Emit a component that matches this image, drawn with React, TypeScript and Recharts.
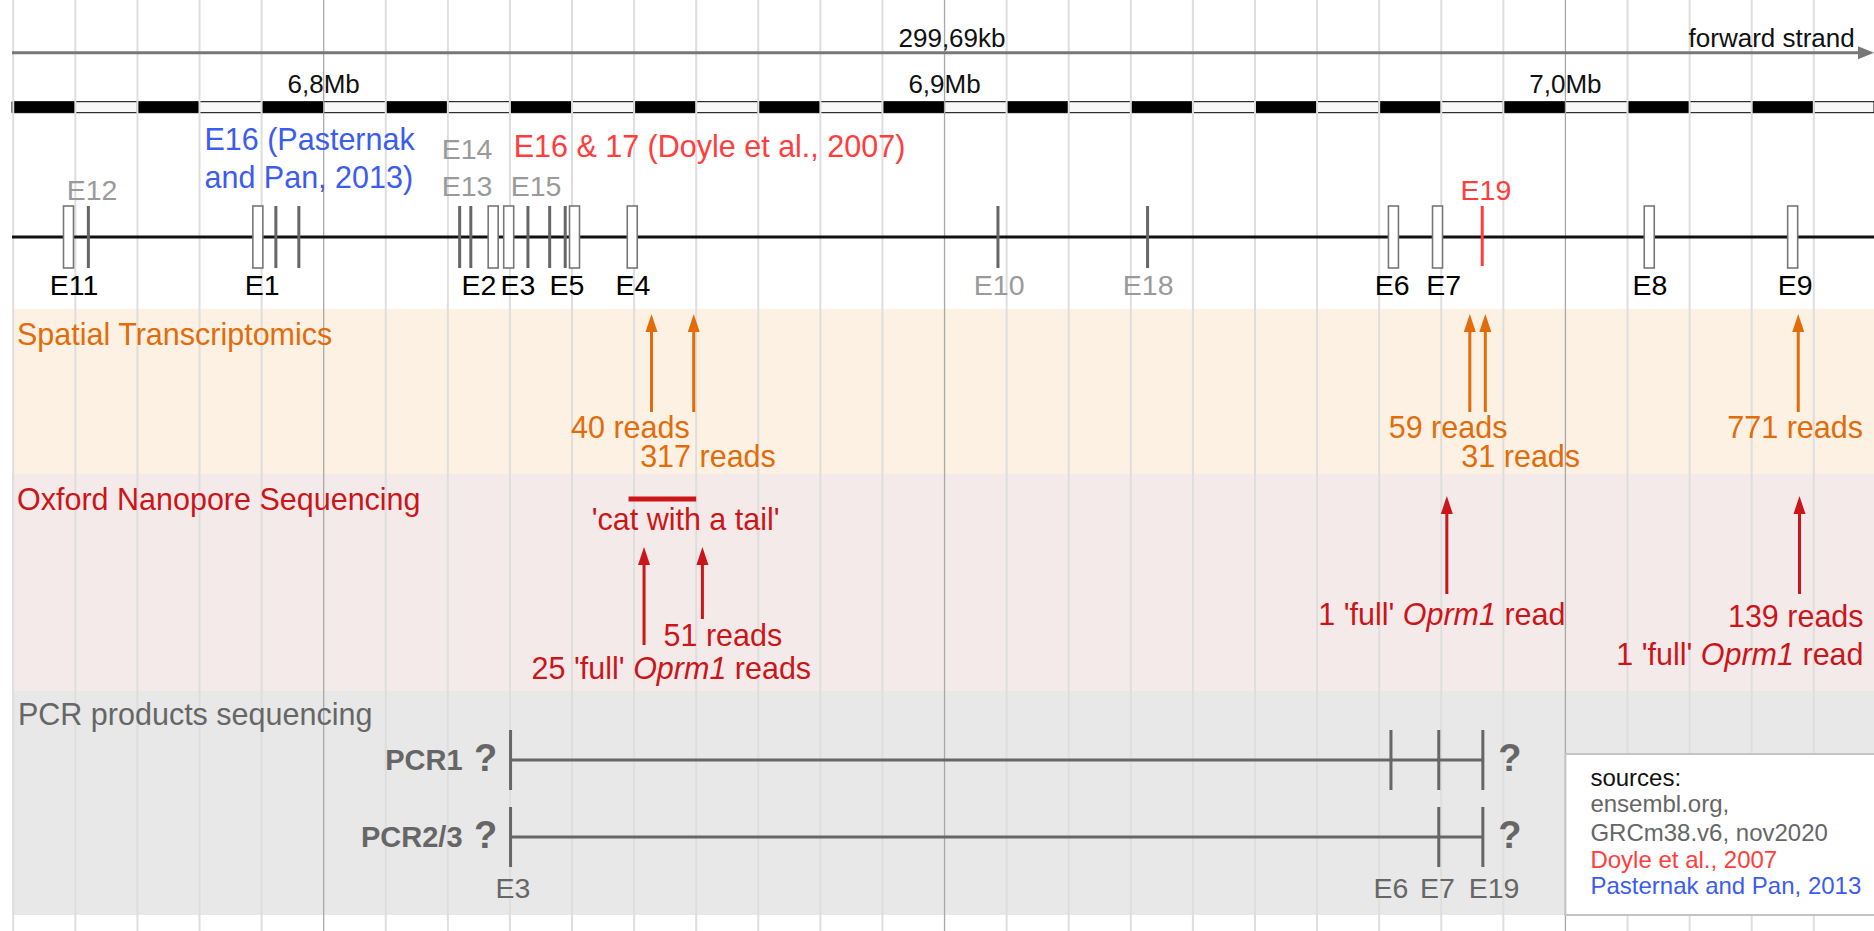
import React from 'react';
import {
  ComposedChart,
  XAxis,
  YAxis,
  Scatter,
  ReferenceArea,
  ReferenceLine,
} from 'recharts';

const W = 1874;
const H = 931;
const FONT = '"Liberation Sans", Arial, sans-serif';

// shown part of chr10 in kb (299,69kb)
const viewKb: [number, number] = [6749.8, 7049.7];

const gridKb = [
  6750, 6760, 6770, 6780, 6790, 6800, 6810, 6820, 6830, 6840, 6850, 6860, 6870, 6880, 6890,
  6900, 6910, 6920, 6930, 6940, 6950, 6960, 6970, 6980, 6990, 7000, 7010, 7020, 7030, 7040,
];
const megabaseKb = [6800, 6900, 7000];
const megabaseLabels = ['6,8Mb', '6,9Mb', '7,0Mb'];

// exons drawn as open boxes / thin bars
const boxExonKb = [6758.9, 6789.4, 6827.3, 6829.8, 6840.4, 6849.7, 6972.3, 6979.4, 7013.5, 7036.6];
const thinExonKb = [6762.1, 6792.3, 6796.0, 6821.9, 6823.7, 6832.9, 6836.4, 6838.9, 6908.6, 6932.7];
const e19Kb = 6986.6;

// exon names under the track
const belowNames = ['E11', 'E1', 'E2', 'E3', 'E5', 'E4', 'E10', 'E18', 'E6', 'E7', 'E8', 'E9'];
const belowKb = [6759.8, 6790.1, 6825.0, 6831.3, 6839.2, 6849.8, 6908.8, 6932.8, 6972.1, 6980.4, 7013.6, 7037.0];
const greyBelow = ['E10', 'E18'];

// exon names above the track
const aboveNames = ['E12', 'E14', 'E13', 'E15'];
const aboveKb = [6762.7, 6823.1, 6823.1, 6834.2];

const pasternakLines = ['E16 (Pasternak', 'and Pan, 2013)'];
const pasternakKb = 6780.8;
const doyleText = 'E16 & 17 (Doyle et al., 2007)';
const doyleKb = 6830.6;
const e19LabelKb = 6987.2;

// spatial transcriptomics
const stArrowKb = [6852.8, 6859.6, 6984.6, 6987.1, 7037.5];
const stReads = ['40 reads', '317 reads', '59 reads', '31 reads', '771 reads'];
const stLabelKb = [6849.4, 6861.9, 6981.1, 6992.8, 7037.0];

// oxford nanopore
const ontArrowKb = [6851.6, 6861.0, 6980.9, 7037.7];
const catTailKb: [number, number] = [6849.1, 6860.0];
const ontTexts = [
  ["'cat with a tail'"],
  ['51 reads'],
  ["25 'full' ", 'Oprm1', ' reads'],
  ["1 'full' ", 'Oprm1', ' read'],
  ['139 reads'],
  ["1 'full' ", 'Oprm1', ' read'],
];
const ontLabelKb = [6858.3, 6864.3, 6856.0, 6980.1, 7037.1, 7028.1];

// PCR products
const pcrNames = ['PCR1', 'PCR2/3'];
const pcrExonKb = [
  [6830.1, 6971.9, 6979.6, 6986.7],
  [6830.1, 6979.6, 6986.7],
];
const pcrExonNames = ['E3', 'E6', 'E7', 'E19'];
const pcrExonLabelKb = [6830.5, 6971.9, 6979.4, 6988.5];

const sourceLines = ['sources:', 'ensembl.org,', 'GRCm38.v6, nov2020', 'Doyle et al., 2007', 'Pasternak and Pan, 2013'];
const sourcesKb = 7000;

// colours
const ORANGE = '#e26b0a';
const DARK_RED = '#cc1519';
const LIGHT_RED = '#ff3d3d';
const BLUE = '#3c5cf0';
const GREY_TXT = '#9a9a9a';
const PCR_GREY = '#666666';

// layout (y axis runs 0..H, top to bottom)
const Y_STRAND = 52.7;
const Y_TRACK = 237;
const ST_ROWS = [438, 467, 438, 467, 438];
const ONT_ROWS = [530, 646, 679, 625, 627, 665];
const PCR_ROWS = [760, 837];
const BIG = 30.5;
const EX = 28.5;

type Label = {
  x: number;
  y: number;
  parts: string[];
  color: string;
  size: number;
  anchor?: string;
  weight?: string;
  dx?: number;
};

const labels: Label[] = [];
const add = (l: Label) => labels.push(l);

add({ x: 6901.2, y: 46.5, parts: ['299,69kb'], color: '#111', size: 26 });
add({ x: 7046.6, y: 46.5, parts: ['forward strand'], color: '#111', size: 26, anchor: 'end' });
megabaseKb.forEach((kb, i) => add({ x: kb, y: 93, parts: [megabaseLabels[i]], color: '#111', size: 26 }));
belowNames.forEach((n, i) =>
  add({ x: belowKb[i], y: 295, parts: [n], color: greyBelow.includes(n) ? GREY_TXT : '#000', size: EX }),
);
aboveNames.forEach((n, i) =>
  add({ x: aboveKb[i], y: n === 'E14' ? 159 : n === 'E12' ? 200 : 196, parts: [n], color: GREY_TXT, size: EX }),
);
pasternakLines.forEach((t, i) =>
  add({ x: pasternakKb, y: 150 + i * 38, parts: [t], color: BLUE, size: BIG, anchor: 'start' }),
);
add({ x: doyleKb, y: 157, parts: [doyleText], color: LIGHT_RED, size: BIG, anchor: 'start' });
add({ x: e19LabelKb, y: 200, parts: ['E19'], color: LIGHT_RED, size: EX });

add({ x: viewKb[0], y: 345, parts: ['Spatial Transcriptomics'], color: ORANGE, size: BIG, anchor: 'start', dx: 5 });
add({ x: viewKb[0], y: 510, parts: ['Oxford Nanopore Sequencing'], color: DARK_RED, size: BIG, anchor: 'start', dx: 5 });
add({ x: viewKb[0], y: 725, parts: ['PCR products sequencing'], color: PCR_GREY, size: BIG, anchor: 'start', dx: 6 });

stReads.forEach((t, i) => add({ x: stLabelKb[i], y: ST_ROWS[i], parts: [t], color: ORANGE, size: BIG }));
ontTexts.forEach((p, i) => add({ x: ontLabelKb[i], y: ONT_ROWS[i], parts: p, color: DARK_RED, size: BIG }));

pcrNames.forEach((n, i) => {
  const kb = pcrExonKb[i][0];
  const last = pcrExonKb[i][pcrExonKb[i].length - 1];
  add({ x: kb, y: PCR_ROWS[i] + 10, parts: [n], color: PCR_GREY, size: 29, weight: 'bold', anchor: 'end', dx: -48 });
  add({ x: kb, y: PCR_ROWS[i] + 11, parts: ['?'], color: PCR_GREY, size: 38, weight: 'bold', dx: -25 });
  add({ x: last, y: PCR_ROWS[i] + 11, parts: ['?'], color: PCR_GREY, size: 38, weight: 'bold', dx: 27 });
});
pcrExonNames.forEach((n, i) => add({ x: pcrExonLabelKb[i], y: 898, parts: [n], color: PCR_GREY, size: EX }));

const sourceColors = ['#111', PCR_GREY, PCR_GREY, LIGHT_RED, BLUE];
const sourceRows = [786, 812, 841, 868, 894];
sourceLines.forEach((t, i) =>
  add({ x: sourcesKb, y: sourceRows[i], parts: [t], color: sourceColors[i], size: 24, anchor: 'start', dx: 25 }),
);

// arrows: tip at y, shaft of given length
const stArrows = stArrowKb.map((kb) => ({ x: kb, y: 314, len: 98 }));
const ontArrows = ontArrowKb.map((kb, i) => ({
  x: kb,
  y: i < 2 ? 547 : 496,
  len: i === 1 ? 72 : 98,
}));

const rulerBlocks = gridKb.slice(0, -1).map((kb, i) => ({
  x1: i === 0 ? viewKb[0] : kb,
  x2: gridKb[i + 1],
  dark: i % 2 === 0,
}));
rulerBlocks.push({ x1: gridKb[gridKb.length - 1], x2: viewKb[1], dark: false });

const TextShape = (p: any) => {
  const d: Label = p.payload;
  return (
    <text
      x={p.cx + (d.dx ?? 0)}
      y={p.cy}
      textAnchor={d.anchor ?? 'middle'}
      fill={d.color}
      fontSize={d.size}
      fontWeight={d.weight ?? 'normal'}
      fontFamily={FONT}
      style={{ whiteSpace: 'pre' }}
    >
      {d.parts.map((s, i) => (
        <tspan key={i} fontStyle={s === 'Oprm1' ? 'italic' : 'normal'}>
          {s}
        </tspan>
      ))}
    </text>
  );
};

const arrowShape = (color: string) => (p: any) => {
  const { cx, cy } = p;
  const len = p.payload.len;
  return (
    <g>
      <line x1={cx} y1={cy + 12} x2={cx} y2={cy + len} stroke={color} strokeWidth={3} />
      <path d={`M${cx},${cy} L${cx - 6},${cy + 18} L${cx + 6},${cy + 18} Z`} fill={color} />
    </g>
  );
};

const ExonBox = (p: any) => (
  <rect x={p.cx - 5} y={p.cy - 31} width={10} height={62} fill="#fff" stroke="#777" strokeWidth={1.6} />
);

const tickShape = (color: string, half: number) => (p: any) => (
  <line x1={p.cx} y1={p.cy - half} x2={p.cx} y2={p.cy + half} stroke={color} strokeWidth={3} />
);

const StrandHead = (p: any) => (
  <path d={`M${p.cx},${p.cy} L${p.cx - 16},${p.cy - 6.5} L${p.cx - 16},${p.cy + 6.5} Z`} fill="#777" />
);

const SourcesBox = (p: any) => (
  <rect x={p.cx} y={p.cy} width={W - p.cx + 4} height={161} fill="#fff" stroke="#c4c4c4" strokeWidth={2} />
);

export default function App() {
  return (
    <div style={{ position: 'absolute', left: 0, top: 0, width: W, height: H, background: '#fff' }}>
      <ComposedChart width={W} height={H} margin={{ top: 0, right: 0, bottom: 0, left: 12 }}>
        <XAxis type="number" dataKey="x" domain={viewKb} allowDataOverflow hide />
        <YAxis type="number" dataKey="y" domain={[0, H]} reversed allowDataOverflow hide />

        {/* data-type bands */}
        <ReferenceArea x1={viewKb[0]} x2={viewKb[1]} y1={309} y2={474} fill="#fdf1e3" fillOpacity={1} stroke="none" />
        <ReferenceArea x1={viewKb[0]} x2={viewKb[1]} y1={474} y2={691} fill="#f4eae9" fillOpacity={1} stroke="none" />
        <ReferenceArea x1={viewKb[0]} x2={viewKb[1]} y1={691} y2={915} fill="#e8e8e8" fillOpacity={1} stroke="none" />

        {/* 10kb grid */}
        {gridKb.map((kb) => (
          <ReferenceLine
            key={`g${kb}`}
            x={kb}
            stroke={megabaseKb.includes(kb) ? '#a8a8a8' : '#dedede'}
            strokeWidth={megabaseKb.includes(kb) ? 1.3 : 2}
          />
        ))}

        {/* ruler */}
        {rulerBlocks.map((b, i) => (
          <ReferenceArea
            key={`r${i}`}
            x1={b.x1}
            x2={b.x2}
            y1={101.7}
            y2={112.7}
            fill={b.dark ? '#000' : '#f8f8f8'}
            fillOpacity={1}
            stroke="#000"
            strokeWidth={1}
          />
        ))}

        <ReferenceLine
          segment={[
            { x: viewKb[0], y: Y_STRAND },
            { x: viewKb[1] - 1.5, y: Y_STRAND },
          ]}
          stroke="#777"
          strokeWidth={3}
        />
        <ReferenceLine y={Y_TRACK} stroke="#111" strokeWidth={3} />

        <ReferenceLine
          segment={[
            { x: catTailKb[0], y: 499 },
            { x: catTailKb[1], y: 499 },
          ]}
          stroke={DARK_RED}
          strokeWidth={5}
        />
        {pcrExonKb.map((row, i) => (
          <ReferenceLine
            key={`p${i}`}
            segment={[
              { x: row[0], y: PCR_ROWS[i] },
              { x: row[row.length - 1], y: PCR_ROWS[i] },
            ]}
            stroke={PCR_GREY}
            strokeWidth={3}
          />
        ))}

        <Scatter data={[{ x: viewKb[1], y: Y_STRAND }]} shape={StrandHead} isAnimationActive={false} />
        <Scatter
          data={thinExonKb.map((kb) => ({ x: kb, y: Y_TRACK }))}
          shape={tickShape('#666', 31)}
          isAnimationActive={false}
        />
        <Scatter
          data={[{ x: e19Kb, y: Y_TRACK - 1 }]}
          shape={tickShape(LIGHT_RED, 30)}
          isAnimationActive={false}
        />
        <Scatter data={boxExonKb.map((kb) => ({ x: kb, y: Y_TRACK }))} shape={ExonBox} isAnimationActive={false} />

        <Scatter data={stArrows} shape={arrowShape(ORANGE)} isAnimationActive={false} />
        <Scatter data={ontArrows} shape={arrowShape(DARK_RED)} isAnimationActive={false} />

        {pcrExonKb.map((row, i) => (
          <Scatter
            key={`pt${i}`}
            data={row.map((kb) => ({ x: kb, y: PCR_ROWS[i] }))}
            shape={tickShape(PCR_GREY, 30)}
            isAnimationActive={false}
          />
        ))}

        <Scatter data={[{ x: sourcesKb, y: 754 }]} shape={SourcesBox} isAnimationActive={false} />
        <Scatter data={labels} shape={TextShape} isAnimationActive={false} />
      </ComposedChart>
    </div>
  );
}
